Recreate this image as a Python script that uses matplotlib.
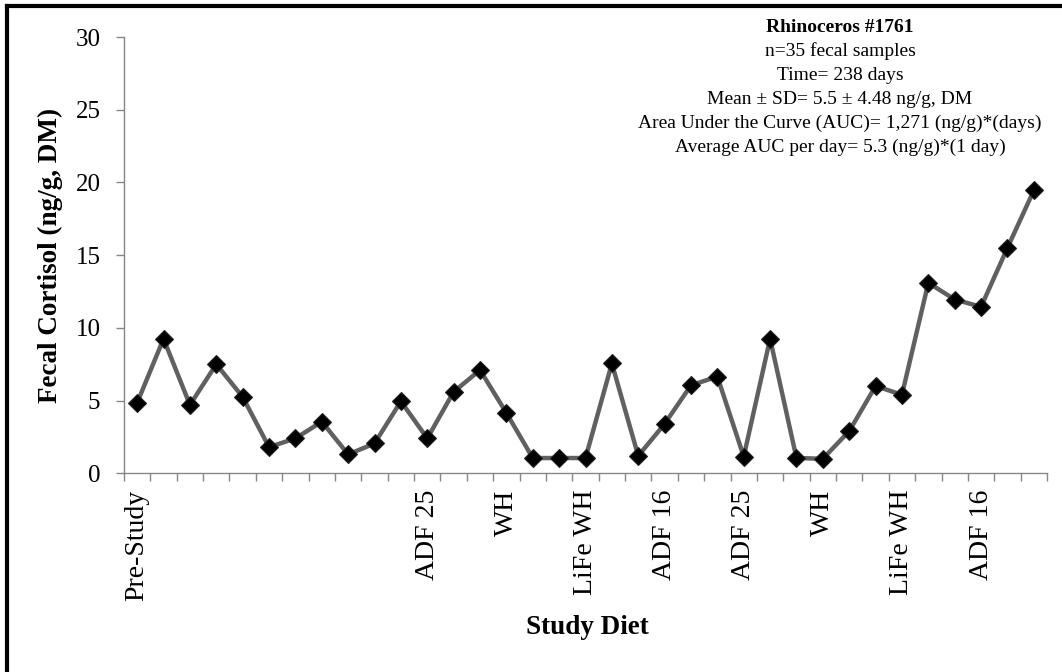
import matplotlib
matplotlib.use("Agg")
import matplotlib.pyplot as plt
from matplotlib.lines import Line2D

# ---- data ----
cortisol = [4.85, 9.25, 4.7, 7.5, 5.25, 1.8, 2.4, 3.55, 1.3, 2.05,
            4.95, 2.4, 5.6, 7.1, 4.15, 1.05, 1.05, 1.05, 7.55, 1.2,
            3.4, 6.05, 6.65, 1.15, 9.25, 1.05, 1.0, 2.9, 6.0, 5.4,
            13.1, 11.95, 11.45, 15.5, 19.45]
diet_labels = ["Pre-Study", "", "", "", "", "", "", "", "", "",
               "", "ADF 25", "", "", "WH", "", "", "LiFe WH", "", "",
               "ADF 16", "", "", "ADF 25", "", "", "WH", "", "", "LiFe WH",
               "", "", "ADF 16", "", ""]
y_ticks = [0, 5, 10, 15, 20, 25, 30]
info_title = "Rhinoceros #1761"
info_lines = ["n=35 fecal samples",
              "Time= 238 days",
              "Mean \u00b1 SD= 5.5 \u00b1 4.48 ng/g, DM",
              "Area Under the Curve (AUC)= 1,271 (ng/g)*(days)",
              "Average AUC per day= 5.3 (ng/g)*(1 day)"]

plt.rcParams['font.family'] = ['Liberation Serif', 'DejaVu Serif']

W, H = 1062, 672
fig = plt.figure(figsize=(W / 100, H / 100), dpi=100)
fig.patch.set_facecolor('white')

ax = fig.add_axes([124 / W, 1 - 473.3 / H, (1047 - 124) / W, (473.3 - 37) / H])
x = list(range(len(cortisol)))
ax.plot(x, cortisol, color='#606060', lw=3.2, marker='D', ms=9,
        mfc='black', mec='#222222', mew=0.8, zorder=3)

axis_col = '#868686'
for s in ['top', 'right']:
    ax.spines[s].set_visible(False)
for s in ['left', 'bottom']:
    ax.spines[s].set_color(axis_col)
    ax.spines[s].set_linewidth(1.0)

ax.set_xlim(-0.5, len(cortisol) - 0.5)
ax.set_ylim(0, 30)
ax.set_yticks(y_ticks)
ax.set_yticklabels([str(v) for v in y_ticks], fontsize=18)
ax.tick_params(axis='y', direction='out', length=6, width=1, color=axis_col, pad=11)

# tick marks between categories
ax.set_xticks([i - 0.5 for i in range(len(cortisol) + 1)])
ax.set_xticklabels([])
ax.tick_params(axis='x', which='major', direction='out', length=6, width=1, color=axis_col)
# category labels
lab_pos = [i for i, l in enumerate(diet_labels) if l]
ax.set_xticks(lab_pos, minor=True)
ax.set_xticklabels([diet_labels[i] for i in lab_pos], minor=True, rotation=90,
                   fontsize=20, va='top', ha='center')
ax.tick_params(axis='x', which='minor', length=0, pad=12)

# axis titles
fig.text(587 / W, 1 - 628 / H, "Study Diet", fontsize=19.5, fontweight='bold',
         ha='center', va='center')
fig.text(50 / W, 1 - 255 / H, "Fecal Cortisol (ng/g, DM)", fontsize=19.5,
         fontweight='bold', rotation=90, ha='center', va='center')

# info box text
cx = 840 / W
fig.text(cx, 1 - 27 / H, info_title, fontsize=14, fontweight='bold', ha='center', va='center')
ys = [51, 75, 99, 123, 147]
for yy, t in zip(ys, info_lines):
    fig.text(cx, 1 - yy / H, t, fontsize=14, ha='center', va='center')

# border (top and left)
fig.add_artist(Line2D([7 / W, 1], [1 - 6 / H, 1 - 6 / H], color='black', lw=3,
                      transform=fig.transFigure, solid_capstyle='projecting'))
fig.add_artist(Line2D([7 / W, 7 / W], [0, 1 - 6 / H], color='black', lw=3,
                      transform=fig.transFigure, solid_capstyle='projecting'))

fig.savefig("out.png", dpi=100)
